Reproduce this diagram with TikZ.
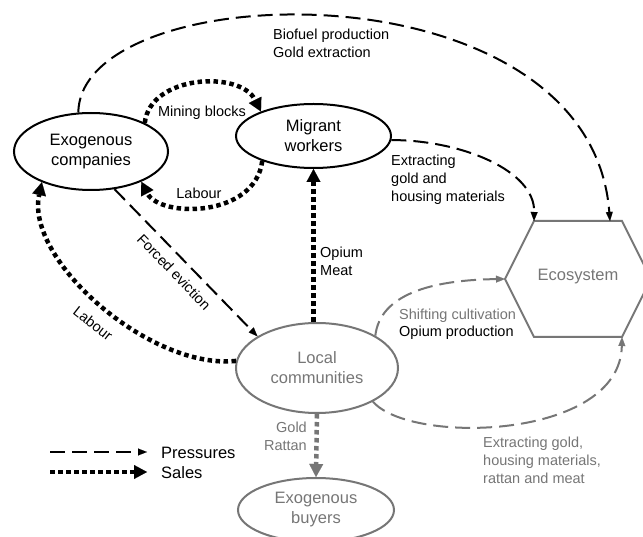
\documentclass[tikz,border=0pt]{standalone}
\usepackage{fontspec}
\setmainfont{Liberation Sans}
\usetikzlibrary{arrows.meta,shapes.geometric,calc}
\definecolor{mygray}{RGB}{118,118,118}
\begin{document}
\begin{tikzpicture}[x=1pt,y=-1pt,
  nodefont/.style={font=\fontsize{16.5}{20}\selectfont},
  bubble/.style={ellipse, draw, line width=2pt, inner sep=0pt, align=center, nodefont},
  gbubble/.style={bubble, draw=mygray, text=mygray},
  lbl/.style={font=\fontsize{14.5}{18}\selectfont, inner sep=0pt, align=left},
  glbl/.style={lbl, text=mygray},
  pres/.style={line width=2pt, dash pattern=on 15pt off 7pt, -{Triangle[length=9pt,width=7pt,line width=0.1pt]}},
  sale/.style={line width=4.5pt, dash pattern=on 4.5pt off 3.5pt, -{Triangle[length=13pt,width=14pt,line width=0.1pt]}},
]
\useasboundingbox (0,0) rectangle (643,537);
\fill[white] (0,0) rectangle (643,537);

% nodes
\node[bubble, minimum width=154pt, minimum height=77pt] (ec) at (91,151.5) {Exogenous\\companies};
\node[bubble, minimum width=155pt, minimum height=64pt] (mw) at (313.5,136) {Migrant\\workers};
\node[gbubble, minimum width=162pt, minimum height=90pt] (lc) at (317,368) {Local\\communities};
\node[gbubble, minimum width=156pt, minimum height=64pt] (eb) at (316,510) {Exogenous\\buyers};

% ecosystem hexagon
\coordinate (h1) at (505,279);
\coordinate (h2) at (534,221);
\coordinate (h3) at (622,221);
\coordinate (h4) at (651,279);
\coordinate (h5) at (622,337);
\coordinate (h6) at (534,337);
\draw[mygray, line width=2pt] (h1)--(h2)--(h3)--(h4)--(h5)--(h6)--cycle;
\node[nodefont, text=mygray] (eco) at (578,277) {Ecosystem};
\coordinate (ecotop) at (610,221);

% connectors
\draw[pres] (ec.108) .. controls (80,-25) and (590,-40) .. (ecotop);
\draw[sale] (ec.28) .. controls (150,75) and (240,70) .. (mw.155);
\draw[sale] (mw.206) .. controls (255,218) and (160,218) .. (ec.-31);
\draw[pres] (mw.-3) .. controls (460,140) and (535,170) .. (h2);
\draw[pres] (ec.-58) -- (lc.152);
\draw[sale] (lc.175) .. controls (150,370) and (25,260) .. (ec.212);
\draw[sale] (lc.north -| mw.south) -- (mw.south);
\draw[pres, mygray] (lc.29) .. controls (380,295) and (430,280) .. (h1);
\draw[pres, mygray] (lc.-31) .. controls (410,445) and (620,440) .. (h5);
\draw[sale, mygray] (lc.south) -- (eb.north);

% labels
\node[lbl, anchor=north west] (lbio) at (273,28.5) {Biofuel production\\Gold extraction};
\node[lbl] (lmin) at (202,113) {Mining blocks};
\node[lbl] (llab1) at (199,193) {Labour};
\node[lbl, anchor=north west] (lext1) at (391,154.5) {Extracting\\gold and\\housing materials};
\node[lbl, rotate=-46] (lfor) at (174,272) {Forced eviction};
\node[lbl, rotate=-38] (llab2) at (93,323) {Labour};
\node[lbl, anchor=north west] (lopm) at (320,246.5) {Opium\\Meat};
\node[glbl, anchor=base west] (lshi) at (399,320) {Shifting cultivation};
\node[lbl, anchor=base west] (lopp) at (399,337) {Opium production};
\node[glbl, anchor=north east, align=right] (lgold) at (307,421.5) {Gold\\Rattan};
\node[glbl, anchor=north west] (lext2) at (483,436.5) {Extracting gold,\\housing materials,\\rattan and meat};

% legend
\coordinate (p1) at (50,452);
\coordinate (p2) at (147,452);
\draw[pres] (p1) -- (p2);
\node[nodefont, anchor=base west, inner sep=0pt] (lpres) at (161,458) {Pressures};
\coordinate (s1) at (50,472);
\coordinate (s2) at (147,472);
\draw[sale] (s1) -- (s2);
\node[nodefont, anchor=base west, inner sep=0pt] (lsal) at (161,478) {Sales};
\end{tikzpicture}
\end{document}
